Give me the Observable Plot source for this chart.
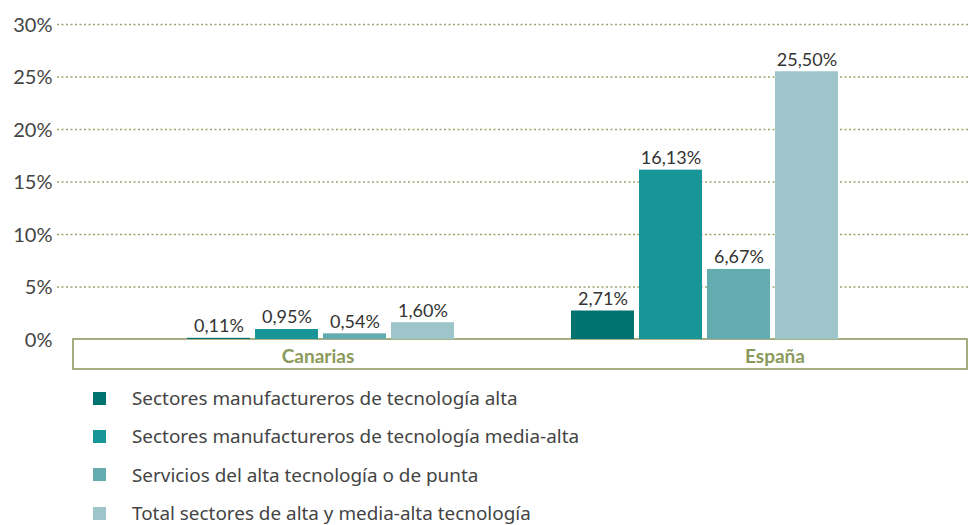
<!DOCTYPE html>
<html><head><meta charset="utf-8">
<script src="https://cdn.jsdelivr.net/npm/d3@7"></script>
<script src="https://cdn.jsdelivr.net/npm/@observablehq/plot@0.6"></script>
<style>
body{margin:0;background:#fff;}
#chart{position:relative;width:968px;height:375px;}
#chart svg{position:absolute;left:0;top:0;}
#legend{font-family:"Noto Sans",Lato,sans-serif;font-size:18.9px;color:#444;padding-top:4px;}
.item{display:flex;align-items:center;height:38.3px;}
.sw{width:13px;height:13px;margin-left:93px;margin-right:26px;}
</style></head><body>
<div id="chart"></div><div id="legend"></div>
<script>
const regions = ["Canarias", "España"];
const series = [
  "Sectores manufactureros de tecnología alta",
  "Sectores manufactureros de tecnología media-alta",
  "Servicios del alta tecnología o de punta",
  "Total sectores de alta y media-alta tecnología"
];
const canarias = [0.11, 0.95, 0.54, 1.60];
const espana = [2.71, 16.13, 6.67, 25.50];
const yTicks = [0, 5, 10, 15, 20, 25, 30];
const colors = ["#00726f", "#189597", "#65acb0", "#9ec6ca"];
const yFloor = -2.86; // depth of the category box under 0%

const data = [];
[canarias, espana].forEach((vals, r) => vals.forEach((v, i) => data.push({region: regions[r], serie: series[i], value: v})));
const fmt = v => v.toFixed(2).replace(".", ",") + "%";

const W = 968, H = 375, MT = 24, MB = 6;
const fontFamily = "Lato, 'Noto Sans', sans-serif";

const back = Plot.plot({
  width: W, height: H, marginTop: MT, marginBottom: MB, marginLeft: 57, marginRight: 0,
  style: {fontFamily, background: "transparent"},
  y: {domain: [yFloor, 30], ticks: yTicks, tickFormat: d => d + "%", label: null},
  x: {axis: null},
  marks: [
    Plot.ruleY(yTicks.filter(d => d > 0), {stroke: "#9ca46c", strokeWidth: 1.3, strokeDasharray: "2,2.5"}),
    Plot.rect([{}], {y1: yFloor, y2: 0, insetLeft: 16, insetRight: 1, fill: "white", stroke: "#8e9a62", strokeWidth: 1.6}),
    Plot.axisY({ticks: yTicks, tickFormat: d => d + "%", tickSize: 0, tickPadding: 5, fontSize: 20, fill: "#444", dy: 1, label: null})
  ]
});

const front = Plot.plot({
  width: W, height: H, marginTop: MT, marginBottom: MB, marginLeft: 73, marginRight: 1,
  style: {fontFamily, background: "transparent"},
  fx: {domain: regions, paddingInner: 0.3, paddingOuter: 0.314, align: 0.47, axis: null, label: null},
  x: {domain: series, paddingInner: 0.07, paddingOuter: 0, axis: null},
  y: {domain: [yFloor, 30], axis: null},
  color: {domain: series, range: colors},
  marks: [
    Plot.barY(data, {fx: "region", x: "serie", y1: 0, y2: "value", fill: "serie"}),
    Plot.text(data, {fx: "region", x: "serie", y: "value", text: d => fmt(d.value), lineAnchor: "bottom", dy: -6, fontSize: 18, fill: "#333"}),
    Plot.text([regions[0]], {fx: d => d, y: yFloor / 2, text: d => d, frameAnchor: "middle", dx: -3, dy: 2, fontSize: 19, fontWeight: "bold", fill: "#8b9a5b"}),
    Plot.text([regions[1]], {fx: d => d, y: yFloor / 2, text: d => d, frameAnchor: "middle", dx: 70, dy: 2, fontSize: 19, fontWeight: "bold", fill: "#8b9a5b"})
  ]
});

document.getElementById("chart").append(back, front);

const legend = document.getElementById("legend");
series.forEach((s, i) => {
  const it = document.createElement("div"); it.className = "item";
  const sw = document.createElement("span"); sw.className = "sw"; sw.style.background = colors[i];
  const t = document.createElement("span"); t.textContent = s;
  it.append(sw, t); legend.append(it);
});
</script>
</body></html>
